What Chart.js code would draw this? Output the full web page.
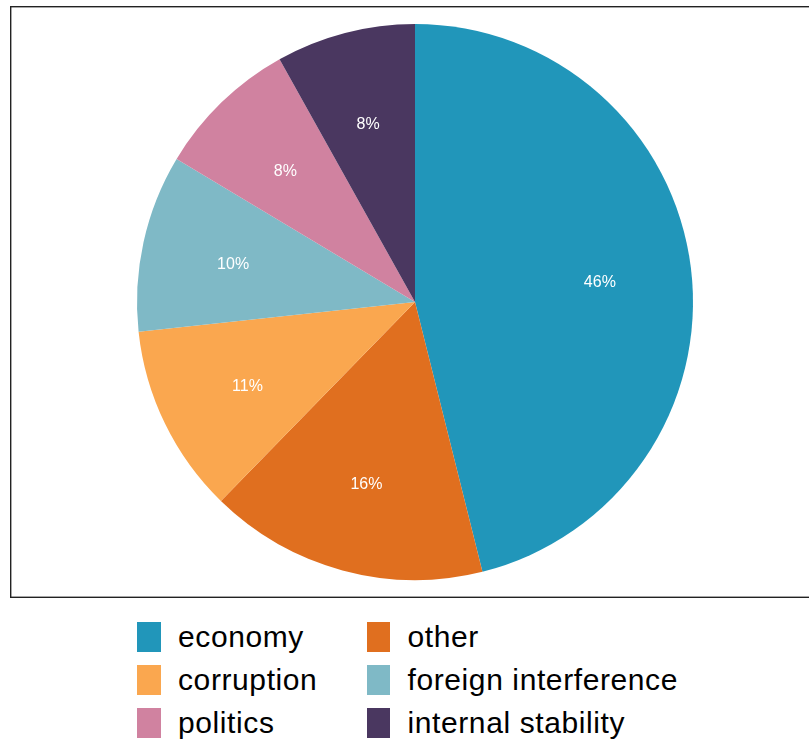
<!DOCTYPE html>
<html>
<head>
<meta charset="utf-8">
<script src="https://cdn.jsdelivr.net/npm/chart.js@4/dist/chart.umd.min.js"></script>
<style>
  html, body { margin: 0; padding: 0; background: #fff; }
  #wrap { position: relative; width: 809px; height: 741px; }
  #pie { position: absolute; left: 0; top: 0; }
  .key { position: absolute; display: flex; align-items: center;
         font-family: "Liberation Sans", Arial, Helvetica, sans-serif;
         font-size: 30px; letter-spacing: 0.6px; color: #000; white-space: nowrap; }
  .key span.sw { display: inline-block; width: 23.5px; height: 30px; margin-right: 17.5px; flex: none; }
</style>
</head>
<body>
<div id="wrap">
  <canvas id="pie" width="809" height="600"></canvas>
  <div id="legend"></div>
</div>
<script>
// Topics, in clockwise order from 12 o'clock
const topics = ['economy', 'other', 'corruption', 'foreign interference', 'politics', 'internal stability'];
// Share of responses (%)
const shares = [46.1, 16.2, 11.0, 10.3, 8.3, 8.1];
const colors = ['#2196BA', '#E06F1F', '#FAA74F', '#7FB9C6', '#D082A0', '#4A3760'];

// Percent labels placed two thirds of the way out along each slice's middle angle
const sliceLabels = {
  id: 'sliceLabels',
  afterDatasetsDraw(chart) {
    const ctx = chart.ctx;
    const meta = chart.getDatasetMeta(0);
    const data = chart.data.datasets[0].data;
    const total = data.reduce((a, b) => a + b, 0);
    ctx.save();
    ctx.fillStyle = '#fff';
    ctx.font = '16px "Liberation Sans", Arial, sans-serif';
    ctx.textAlign = 'center';
    ctx.textBaseline = 'middle';
    meta.data.forEach((arc, i) => {
      const p = arc.getProps(['x', 'y', 'startAngle', 'endAngle', 'outerRadius'], true);
      const mid = (p.startAngle + p.endAngle) / 2;
      const r = p.outerRadius * 0.67;
      const pct = Math.round(data[i] / total * 100);
      ctx.fillText(pct + '%', p.x + Math.cos(mid) * r, p.y + Math.sin(mid) * r + 3);
    });
    ctx.restore();
  }
};

// Frame around the plotting panel
const panelFrame = {
  id: 'panelFrame',
  beforeDraw(chart) {
    const ctx = chart.ctx;
    ctx.save();
    ctx.strokeStyle = '#222';
    ctx.lineWidth = 1.4;
    ctx.strokeRect(10.7, 6.7, 809, 590.6);
    ctx.restore();
  }
};

new Chart(document.getElementById('pie'), {
  type: 'pie',
  data: {
    labels: topics,
    datasets: [{ data: shares, backgroundColor: colors, borderWidth: 0 }]
  },
  options: {
    responsive: false,
    animation: false,
    layout: { padding: { left: 137, right: 116, top: 24, bottom: 20 } },
    plugins: { legend: { display: false }, tooltip: { enabled: false } }
  },
  plugins: [panelFrame, sliceLabels]
});

// Two-column legend below the panel
const legend = document.getElementById('legend');
const colX = [137, 366.5];
const rowY = [621.7, 665, 708.3];
topics.forEach((t, i) => {
  const d = document.createElement('div');
  d.className = 'key';
  d.style.left = colX[i % 2] + 'px';
  d.style.top = rowY[Math.floor(i / 2)] + 'px';
  d.style.height = '30px';
  const sw = document.createElement('span');
  sw.className = 'sw';
  sw.style.background = colors[i];
  d.appendChild(sw);
  d.appendChild(document.createTextNode(t));
  legend.appendChild(d);
});
</script>
</body>
</html>
